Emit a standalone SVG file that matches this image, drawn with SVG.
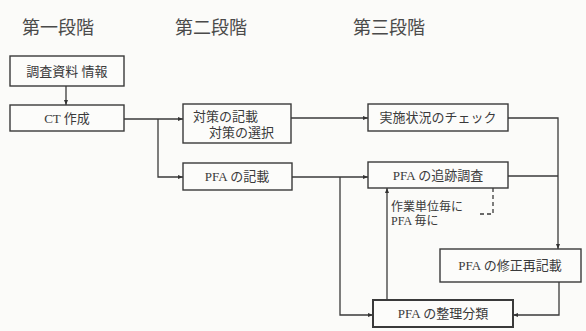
<svg xmlns="http://www.w3.org/2000/svg" width="586" height="331" viewBox="0 0 586 331">
<defs>
<marker id="ah" viewBox="0 0 10 10" refX="10" refY="5" markerWidth="7" markerHeight="5" orient="auto" markerUnits="userSpaceOnUse">
<path d="M0,1 L10,5 L0,9 z" fill="#333"/>
</marker>
</defs>
<style>
.box{fill:#fcfcfa;stroke:#3a3a3a;stroke-width:1.4}
.t{font-family:"Liberation Serif","Noto Sans CJK JP",serif;fill:#3a3a3a;font-size:13px}
.s{font-size:12px}
.h{font-family:"Liberation Serif","Noto Sans CJK JP",serif;fill:#4a4a4a;font-size:18px;text-anchor:middle}
.c{text-anchor:middle}
.ln{fill:none;stroke:#3a3a3a;stroke-width:1.3}
.dash{fill:none;stroke:#3a3a3a;stroke-width:1.3;stroke-dasharray:4,3}
</style>
<rect width="586" height="331" fill="#fbfbf9"/>
<text class="h" x="58" y="34">第一段階</text>
<text class="h" x="211" y="34">第二段階</text>
<text class="h" x="389" y="34">第三段階</text>
<g id="connectors">
<path class="ln" d="M66,86 V105" marker-end="url(#ah)"/>
<path class="ln" d="M124,119 H183" marker-end="url(#ah)"/>
<path class="ln" d="M158,119 V177 H183" marker-end="url(#ah)"/>
<path class="ln" d="M291,118 H368" marker-end="url(#ah)"/>
<path class="ln" d="M292,177 H368" marker-end="url(#ah)"/>
<path class="ln" d="M340,177 V315 H373" marker-end="url(#ah)"/>
<path class="ln" d="M508,118 H558 V249" marker-end="url(#ah)"/>
<path class="ln" d="M508,176 H558"/>
<path class="ln" d="M559,282 V315 H513" marker-end="url(#ah)"/>
<path class="ln" d="M387,300 V188" marker-end="url(#ah)"/>
<path class="dash" d="M493,188 V214 H478"/>
</g>
<g id="n1"><rect class="box" x="10" y="56" width="114" height="30"/><text class="t c" x="67" y="76">調査資料 情報</text></g>
<g id="n2"><rect class="box" x="10" y="105" width="114" height="26"/><text class="t c" x="67" y="123">CT 作成</text></g>
<g id="n3"><rect class="box" x="183" y="104" width="108" height="39"/><text class="t" x="193" y="121">対策の記載</text><text class="t" x="209" y="137">対策の選択</text></g>
<g id="n4"><rect class="box" x="183" y="163" width="109" height="27"/><text class="t c" x="237" y="181">PFA の記載</text></g>
<g id="n5"><rect class="box" x="368" y="104" width="140" height="27"/><text class="t c" x="438" y="122">実施状況のチェック</text></g>
<g id="n6"><rect class="box" x="368" y="162" width="140" height="26"/><text class="t c" x="438" y="180">PFA の追跡調査</text></g>
<g id="n7"><text class="t s" x="391" y="211">作業単位毎に</text><text class="t s" x="391" y="225">PFA 毎に</text></g>
<g id="n8"><rect class="box" x="440" y="249" width="141" height="33"/><text class="t c" x="510" y="270">PFA の修正再記載</text></g>
<g id="n9"><rect class="box" x="373" y="300" width="140" height="27" style="stroke-width:2"/><text class="t c" x="443" y="318">PFA の整理分類</text></g>
</svg>
